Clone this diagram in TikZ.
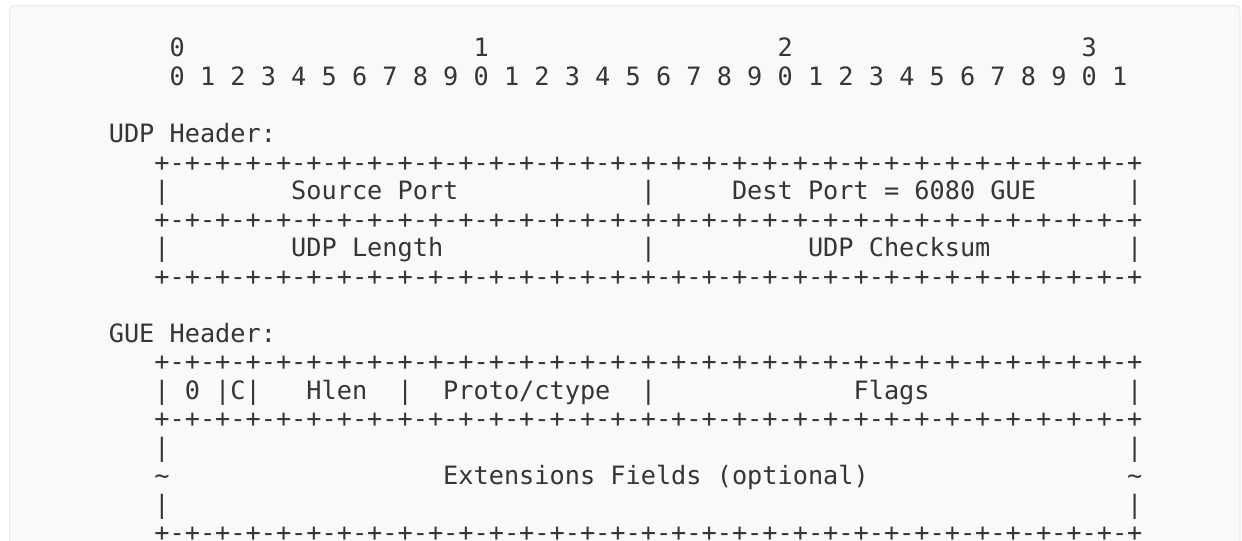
\documentclass[tikz,border=0pt]{standalone}
\usepackage{fontspec}
\newfontfamily\monofam{DejaVu Sans Mono}
\definecolor{bgc}{HTML}{F9F9F9}
\definecolor{bdc}{HTML}{EBEBEB}
\definecolor{txc}{HTML}{353535}
\tikzset{
  txt/.style={anchor=base west, inner sep=0pt, outer sep=0pt, text=txc,
    font=\monofam\fontsize{25.25bp}{30bp}\selectfont\frenchspacing},
  panel/.style={fill=bgc, draw=bdc, line width=1.2bp, rounded corners=5bp}
}
\newcommand\rowat[2]{({78.4+15.2*#1},{57+28.53*#2})}
\newcommand\bordline{+-+-+-+-+-+-+-+-+-+-+-+-+-+-+-+-+-+-+-+-+-+-+-+-+-+-+-+-+-+-+-+-+}
\begin{document}
\begin{tikzpicture}[x=1bp, y=-1bp]
\useasboundingbox (0,0) rectangle (1242,541);
\path[panel] (9.5,5.5) rectangle (1240,580);
% ruler
\node[txt] (r0a) at \rowat{6}{0} {0};
\node[txt] (r0b) at \rowat{26}{0} {1};
\node[txt] (r0c) at \rowat{46}{0} {2};
\node[txt] (r0d) at \rowat{66}{0} {3};
\node[txt] (r1) at \rowat{6}{1} {0 1 2 3 4 5 6 7 8 9 0 1 2 3 4 5 6 7 8 9 0 1 2 3 4 5 6 7 8 9 0 1};
% UDP header
\node[txt] (udph) at \rowat{2}{3} {UDP Header:};
\node[txt] (b4) at \rowat{5}{4} {\bordline};
\node[txt] (p5a) at \rowat{5}{5} {|};
\node[txt] (sport) at \rowat{14}{5} {Source Port};
\node[txt] (p5b) at \rowat{37}{5} {|};
\node[txt] (dport) at \rowat{43}{5} {Dest Port = 6080 GUE};
\node[txt] (p5c) at \rowat{69}{5} {|};
\node[txt] (b6) at \rowat{5}{6} {\bordline};
\node[txt] (p7a) at \rowat{5}{7} {|};
\node[txt] (ulen) at \rowat{14}{7} {UDP Length};
\node[txt] (p7b) at \rowat{37}{7} {|};
\node[txt] (ucks) at \rowat{48}{7} {UDP Checksum};
\node[txt] (p7c) at \rowat{69}{7} {|};
\node[txt] (b8) at \rowat{5}{8} {\bordline};
% GUE header
\node[txt] (gueh) at \rowat{2}{10} {GUE Header:};
\node[txt] (b11) at \rowat{5}{11} {\bordline};
\node[txt] (p12a) at \rowat{5}{12} {| 0 |C|};
\node[txt] (hlen) at \rowat{15}{12} {Hlen};
\node[txt] (p12b) at \rowat{21}{12} {|};
\node[txt] (proto) at \rowat{24}{12} {Proto/ctype};
\node[txt] (p12c) at \rowat{37}{12} {|};
\node[txt] (flags) at \rowat{51}{12} {Flags};
\node[txt] (p12d) at \rowat{69}{12} {|};
\node[txt] (b13) at \rowat{5}{13} {\bordline};
\node[txt] (p14a) at \rowat{5}{14} {|};
\node[txt] (p14b) at \rowat{69}{14} {|};
\node[txt] (t15a) at \rowat{5}{15} {\textasciitilde};
\node[txt] (ext) at \rowat{24}{15} {Extensions Fields (optional)};
\node[txt] (t15b) at \rowat{69}{15} {\textasciitilde};
\node[txt] (p16a) at \rowat{5}{16} {|};
\node[txt] (p16b) at \rowat{69}{16} {|};
\node[txt, text depth=0pt] (b17) at ({78.4+15.2*5},{56+28.53*17}) {\bordline};
\end{tikzpicture}
\end{document}
